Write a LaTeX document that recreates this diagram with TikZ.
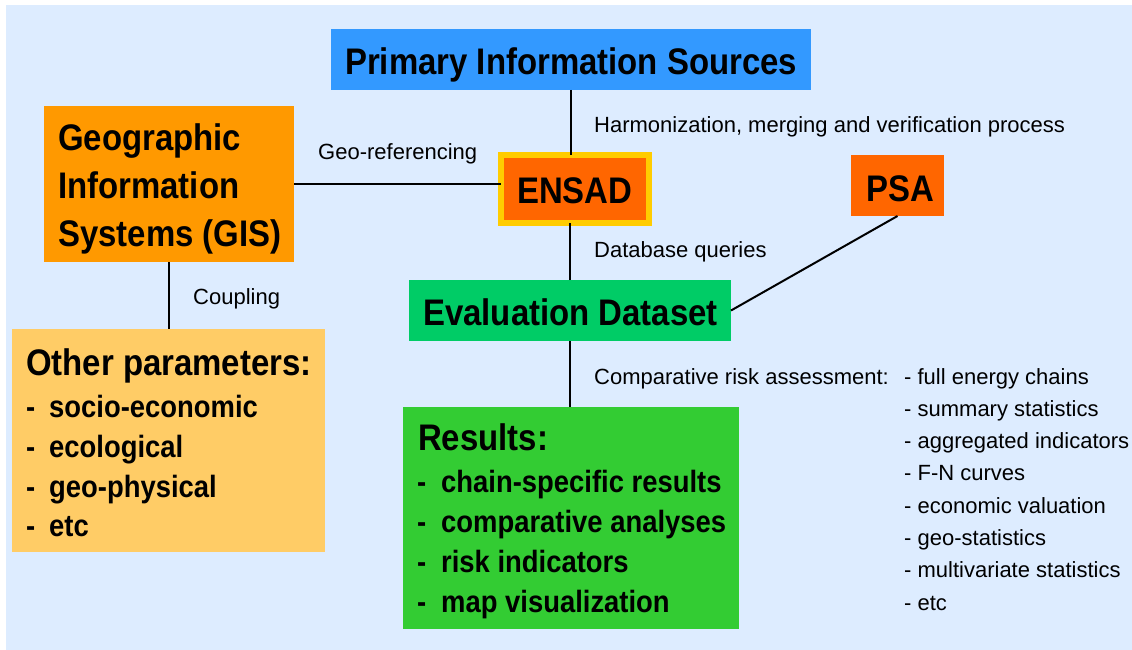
\documentclass[tikz,border=0pt]{standalone}
\usepackage{fontspec}
\setmainfont{Liberation Sans}
\newfontfamily\nb{Liberation Sans}[FakeStretch=0.89]
\definecolor{bgblue}{RGB}{221,236,255}
\definecolor{primblue}{RGB}{51,153,255}
\definecolor{gisorange}{RGB}{255,153,0}
\definecolor{redorange}{RGB}{255,102,0}
\definecolor{ensadyellow}{RGB}{255,204,0}
\definecolor{evalgreen}{RGB}{0,204,102}
\definecolor{resgreen}{RGB}{51,204,51}
\definecolor{otherorange}{RGB}{255,204,102}
\begin{document}
\begin{tikzpicture}[x=1pt,y=-1pt,
  box/.style={inner sep=0pt, outer sep=0pt},
  ttl/.style={anchor=base west, inner sep=0pt, font=\nb\bfseries\fontsize{37}{44}\selectfont},
  itm/.style={anchor=base west, inner sep=0pt, font=\nb\bfseries\fontsize{30.8}{37}\selectfont},
  lbl/.style={anchor=base west, inner sep=0pt, font=\fontsize{22}{26}\selectfont},
  conn/.style={draw=black, line width=2pt}]
\useasboundingbox (0,0) rectangle (1132,650);
\fill[bgblue] (6,5) rectangle (1132,650);

% boxes
\node[box, fill=primblue, minimum width=480pt, minimum height=61pt] (prim) at (571,59.5) {};
\node[box, fill=gisorange, minimum width=250pt, minimum height=156pt] (gis) at (169,184) {};
\node[box, fill=redorange, draw=ensadyellow, line width=6pt, minimum width=148pt, minimum height=67.5pt] (ensad) at (575,188.75) {};
\node[box, fill=redorange, minimum width=93pt, minimum height=61pt] (psa) at (897.5,185.5) {};
\node[box, fill=evalgreen, minimum width=322pt, minimum height=61pt] (eval) at (570,310.5) {};
\node[box, fill=otherorange, minimum width=313pt, minimum height=223pt] (other) at (168.5,440.5) {};
\node[box, fill=resgreen, minimum width=336pt, minimum height=222pt] (results) at (571,518) {};

% connectors
\draw[conn] (prim.south) -- (prim.south |- ensad.north);
\draw[conn] (eval.north) -- (eval.north |- ensad.south);
\draw[conn] (gis.east) -- (gis.east -| ensad.west);
\draw[conn] (gis.south) -- (gis.south |- other.north);
\draw[conn] (psa.south) -- (eval.east);
\draw[conn] (eval.south) -- (eval.south |- results.north);

% box texts
\node[ttl] (primT) at (345,75) {Primary Information Sources};
\node[ttl] (gisT1) at (58,150) {Geographic};
\node[ttl] (gisT2) at (58,198) {Information};
\node[ttl] (gisT3) at (58,246) {Systems (GIS)};
\node[ttl] (ensadT) at (517,203) {ENSAD};
\node[ttl] (psaT) at (866,201) {PSA};
\node[ttl] (evalT) at (423,325) {Evaluation Dataset};
\node[ttl] (otherT) at (26,375) {Other parameters:};
\node[itm] (o1) at (26,417) {\makebox[23pt][l]{-}socio-economic};
\node[itm] (o2) at (26,457) {\makebox[23pt][l]{-}ecological};
\node[itm] (o3) at (26,497) {\makebox[23pt][l]{-}geo-physical};
\node[itm] (o4) at (26,536) {\makebox[23pt][l]{-}etc};
\node[ttl] (resT) at (418,450) {Results:};
\node[itm] (r1) at (417,492) {\makebox[24pt][l]{-}chain-specific results};
\node[itm] (r2) at (417,532) {\makebox[24pt][l]{-}comparative analyses};
\node[itm] (r3) at (417,572) {\makebox[24pt][l]{-}risk indicators};
\node[itm] (r4) at (417,612) {\makebox[24pt][l]{-}map visualization};

% labels
\node[lbl] (harm) at (594,132) {Harmonization, merging and verification process};
\node[lbl] (georef) at (318,160) {Geo-referencing};
\node[lbl] (dbq) at (594,257) {Database queries};
\node[lbl] (coup) at (193,304) {Coupling};
\node[lbl] (cra) at (594,384) {Comparative risk assessment:};
\node[lbl] (c1) at (904,384) {- full energy chains};
\node[lbl] (c2) at (904,416) {- summary statistics};
\node[lbl] (c3) at (904,448) {- aggregated indicators};
\node[lbl] (c4) at (904,480) {- F-N curves};
\node[lbl] (c5) at (904,513) {- economic valuation};
\node[lbl] (c6) at (904,545) {- geo-statistics};
\node[lbl] (c7) at (904,577) {- multivariate statistics};
\node[lbl] (c8) at (904,610) {- etc};
\end{tikzpicture}
\end{document}
